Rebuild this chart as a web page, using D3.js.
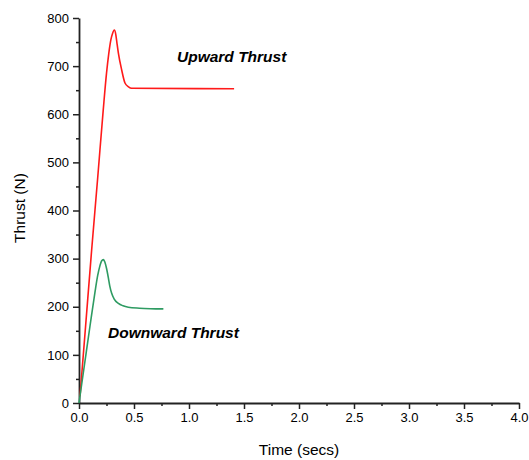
<!DOCTYPE html>
<meta charset="utf-8">
<style>
  body { margin: 0; background: #fff; }
  text { font-family: Arial, "Liberation Sans", sans-serif; }
</style>
<script src="https://d3js.org/d3.v7.min.js"></script>
<div id="chart"></div>
<script>
// data
var upTime   = [0.009, 0.06, 0.115, 0.17, 0.22, 0.25, 0.27, 0.29, 0.305, 0.321, 0.335, 0.345, 0.358, 0.388, 0.418, 0.45, 0.479, 1.41];
var upThrust = [14, 160, 318, 468, 608, 685, 725, 755, 768, 775, 765, 748, 727, 692, 665, 657, 654, 653];

var downTime   = [0, 0.05, 0.10, 0.145, 0.17, 0.19, 0.205, 0.222, 0.235, 0.25, 0.267, 0.28, 0.297, 0.32, 0.358, 0.40, 0.448, 0.55, 0.65, 0.767];
var downThrust = [0, 80, 160, 230, 265, 285, 295, 298, 293, 280, 260, 243, 228, 216, 207, 202, 199, 197, 196, 195.5];

var xTicks = [0, 0.5, 1.0, 1.5, 2.0, 2.5, 3.0, 3.5, 4.0];
var yTicks = [0, 100, 200, 300, 400, 500, 600, 700, 800];

var W = 529, H = 460;
var margin = {left: 79, right: 10, top: 18, bottom: 57};

var svg = d3.select("#chart").append("svg")
    .attr("width", W)
    .attr("height", H);

var x = d3.scaleLinear().domain([0, 4]).range([margin.left, 519]);
var y = d3.scaleLinear().domain([0, 800]).range([403, margin.top]);

// minor ticks first
svg.append("g")
    .attr("transform", "translate(0,403)")
    .call(d3.axisBottom(x).tickValues(d3.range(0.25, 4, 0.5)).tickSize(3).tickFormat(""))
    .call(g => g.select(".domain").remove())
    .selectAll("line").attr("stroke", "#222").attr("stroke-width", 1.5);

svg.append("g")
    .attr("transform", "translate(79,0)")
    .call(d3.axisLeft(y).tickValues(d3.range(50, 800, 100)).tickSize(3).tickFormat(""))
    .call(g => g.select(".domain").remove())
    .selectAll("line").attr("stroke", "#222").attr("stroke-width", 1.5);

var xAxis = svg.append("g")
    .attr("transform", "translate(0,403)")
    .call(d3.axisBottom(x).tickValues(xTicks).tickSize(6).tickSizeOuter(0).tickPadding(4).tickFormat(d3.format(".1f")));

var yAxis = svg.append("g")
    .attr("transform", "translate(79,0)")
    .call(d3.axisLeft(y).tickValues(yTicks).tickSize(6).tickSizeOuter(0).tickPadding(4));

[xAxis, yAxis].forEach(function(g) {
  g.select(".domain").attr("stroke", "#222").attr("stroke-width", 1.8);
  g.selectAll(".tick line").attr("stroke", "#222").attr("stroke-width", 1.5);
  g.selectAll(".tick text")
    .attr("fill", "#000")
    .style("font-family", "Arial, 'Liberation Sans', sans-serif")
    .style("font-size", "13px");
});

var line = d3.line()
    .x(d => x(d[0]))
    .y(d => y(d[1]))
    .curve(d3.curveMonotoneX);

svg.append("path")
    .datum(upTime.map((t, i) => [t, upThrust[i]]))
    .attr("fill", "none")
    .attr("stroke", "#ff1a1a")
    .attr("stroke-width", 1.6)
    .attr("d", line);

svg.append("path")
    .datum(downTime.map((t, i) => [t, downThrust[i]]))
    .attr("fill", "none")
    .attr("stroke", "#2e9b62")
    .attr("stroke-width", 1.6)
    .attr("d", line);

// labels
svg.append("text")
    .attr("x", 177).attr("y", 62)
    .style("font-size", "15.5px").style("font-weight", "bold").style("font-style", "italic")
    .text("Upward Thrust");

svg.append("text")
    .attr("x", 108).attr("y", 338)
    .style("font-size", "15.5px").style("font-weight", "bold").style("font-style", "italic")
    .text("Downward Thrust");

svg.append("text")
    .attr("x", 299).attr("y", 455)
    .attr("text-anchor", "middle")
    .style("font-size", "15.5px")
    .text("Time (secs)");

svg.append("text")
    .attr("transform", "translate(25,208) rotate(-90)")
    .attr("text-anchor", "middle")
    .style("font-size", "15.5px")
    .text("Thrust (N)");
</script>
